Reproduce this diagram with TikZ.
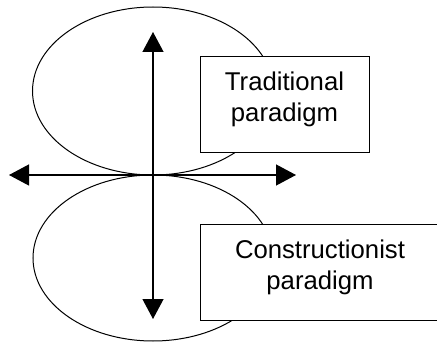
\documentclass[tikz,border=0pt]{standalone}
\usepackage{fontspec}
\setmainfont{Liberation Sans}
\usetikzlibrary{arrows.meta}
\begin{document}
\begin{tikzpicture}[x=1pt,y=-1pt,
  loop/.style={draw=black,line width=1pt},
  axis/.style={line width=1.2pt,{Triangle[length=20pt,width=21pt]}-{Triangle[length=20pt,width=21pt]}},
  paradigmbox/.style={draw=black,fill=white,line width=1pt,rectangle,inner sep=0pt,anchor=north west},
  paradigmtext/.style={align=center,font=\fontsize{25.7}{30.8}\selectfont,inner sep=0pt}]
  \useasboundingbox (0,0) rectangle (437,342);
  \clip (0,0) rectangle (437,342);

  % the two lobes meeting at the origin
  \draw[loop] (153,91) ellipse [x radius=120.5pt, y radius=84pt];
  \draw[loop] (153,258) ellipse [x radius=120pt, y radius=83pt];

  % axes
  \coordinate (top) at (153,32);
  \coordinate (bottom) at (153,319);
  \coordinate (left) at (9,175);
  \coordinate (right) at (296,175);
  \draw[axis] (bottom) -- (top);
  \draw[axis] (left) -- (right);

  % labelled boxes
  \node[paradigmbox,minimum width=169pt,minimum height=96pt] (trad) at (200,56) {};
  \node[paradigmtext] (tradlabel) at (284.5,99.4) {Traditional\\paradigm};
  \node[paradigmbox,minimum width=240pt,minimum height=96pt] (cons) at (200,224) {};
  \node[paradigmtext] (conslabel) at (320,267.4) {Constructionist\\paradigm};
\end{tikzpicture}
\end{document}
